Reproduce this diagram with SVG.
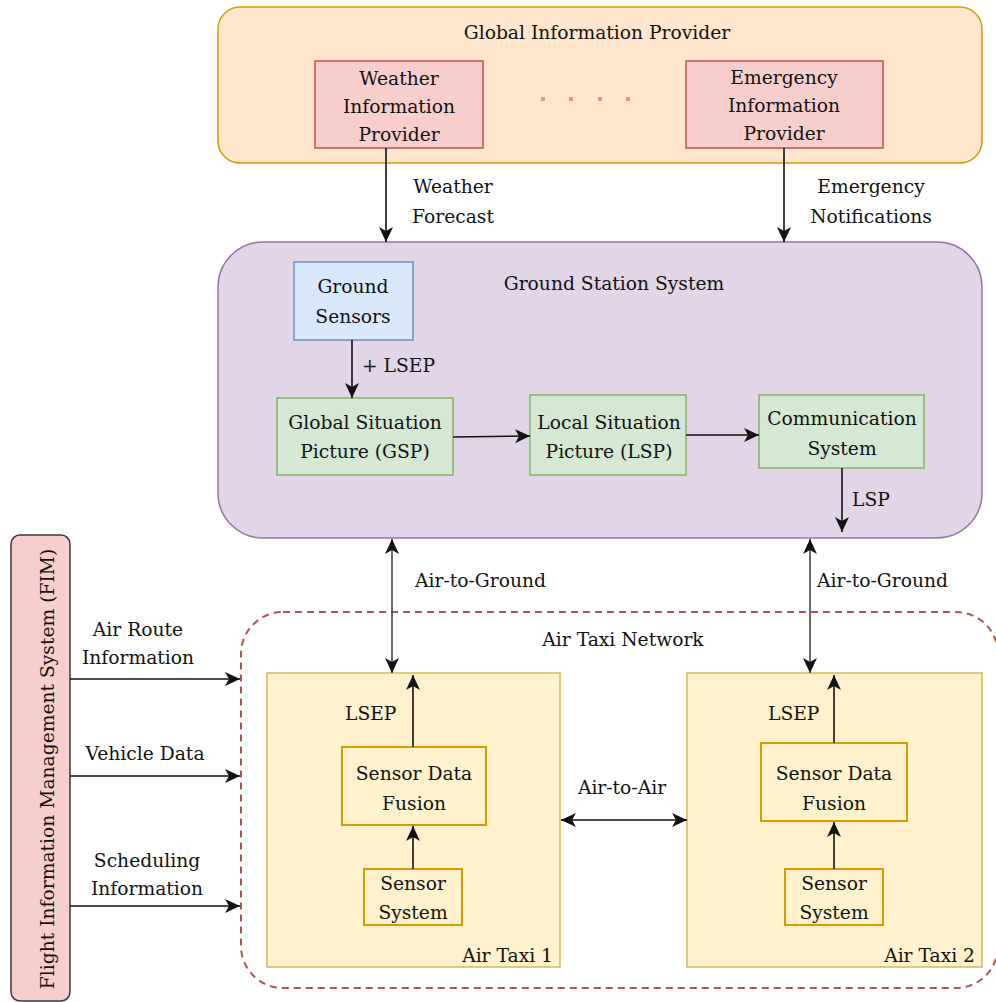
<svg xmlns="http://www.w3.org/2000/svg" width="996" height="1002" viewBox="0 0 996 1002">
  <style>
    text { font-family: 'DejaVu Serif', 'Liberation Serif', serif; font-size: 18.7px; fill: #111; }
    .c { text-anchor: middle; }
    .e { text-anchor: end; }
    .edge { stroke: #111; stroke-width: 1.6; fill: none; }
    .edge2 { stroke: #444; stroke-width: 1.6; fill: none; }
    .red { fill: #f8cecc; stroke: #b85450; stroke-width: 1.5; }
    .green { fill: #d5e8d4; stroke: #82b366; stroke-width: 1.5; }
    .taxi { fill: #fff2cc; stroke: #d6b656; stroke-width: 1.5; }
    .inner { fill: #fff2cc; stroke: #d79b00; stroke-width: 2; }
  </style>
  <defs>
    <marker id="arr" markerUnits="userSpaceOnUse" markerWidth="18" markerHeight="18" refX="15" refY="7" orient="auto-start-reverse">
      <path d="M0,0 L15,7 L0,14 L4,7 z" fill="#111"/>
    </marker>
  </defs>

  <!-- Global Information Provider -->
  <g id="global-info-provider">
    <rect x="218" y="7" width="764" height="156" rx="22" fill="#ffe6cc" stroke="#d79b00" stroke-width="1.5"/>
    <text x="597" y="39" class="c">Global Information Provider</text>
    <g fill="#ea8f95">
      <rect x="541" y="97" width="4" height="4"/>
      <rect x="569" y="97" width="4" height="4"/>
      <rect x="598" y="97" width="4" height="4"/>
      <rect x="626" y="97" width="4" height="4"/>
    </g>
  </g>
  <g id="weather-provider">
    <rect x="315" y="61" width="168" height="87" class="red"/>
    <text x="399" y="85" class="c">Weather</text>
    <text x="399" y="113" class="c">Information</text>
    <text x="399" y="141" class="c">Provider</text>
  </g>
  <g id="emergency-provider">
    <rect x="686" y="61" width="197" height="87" class="red"/>
    <text x="784" y="84" class="c">Emergency</text>
    <text x="784" y="112" class="c">Information</text>
    <text x="784" y="140" class="c">Provider</text>
  </g>

  <!-- Ground Station System -->
  <g id="ground-station">
    <rect x="218" y="242" width="764" height="296" rx="45" fill="#e1d5e7" stroke="#9673a6" stroke-width="1.5"/>
    <text x="614" y="290" class="c">Ground Station System</text>
  </g>
  <g id="ground-sensors">
    <rect x="294" y="262" width="119" height="78" fill="#dae8fc" stroke="#6c8ebf" stroke-width="1.5"/>
    <text x="353" y="293" class="c">Ground</text>
    <text x="353" y="323" class="c">Sensors</text>
  </g>
  <g id="gsp">
    <rect x="277" y="398" width="176" height="77" class="green"/>
    <text x="365" y="429" class="c">Global Situation</text>
    <text x="365" y="458" class="c">Picture (GSP)</text>
  </g>
  <g id="lsp">
    <rect x="530" y="395" width="156" height="80" class="green"/>
    <text x="609" y="429" class="c">Local Situation</text>
    <text x="609" y="458" class="c">Picture (LSP)</text>
  </g>
  <g id="comm-system">
    <rect x="759" y="395" width="165" height="73" class="green"/>
    <text x="842" y="425" class="c">Communication</text>
    <text x="842" y="455" class="c">System</text>
  </g>

  <!-- Flight Information Management System -->
  <g id="fim">
    <rect x="11" y="535" width="59" height="466" rx="9" fill="#f8cecc" stroke="#36393d" stroke-width="1.5"/>
    <text transform="translate(54,769) rotate(-90)" class="c">Flight Information Management System (FIM)</text>
  </g>

  <!-- Air Taxi Network -->
  <g id="air-taxi-network">
    <rect x="241" y="612" width="757" height="376" rx="42" fill="none" stroke="#b85450" stroke-width="2" stroke-dasharray="7,5"/>
    <text x="623" y="646" class="c">Air Taxi Network</text>
  </g>
  <g id="air-taxi-1">
    <rect x="267" y="673" width="293" height="294" class="taxi"/>
    <text x="553" y="962" class="e">Air Taxi 1</text>
  </g>
  <g id="sdf-1">
    <rect x="342" y="747" width="144" height="78" class="inner"/>
    <text x="414" y="780" class="c">Sensor Data</text>
    <text x="414" y="810" class="c">Fusion</text>
  </g>
  <g id="sensor-system-1">
    <rect x="364" y="869" width="98" height="56" class="inner"/>
    <text x="413" y="890" class="c">Sensor</text>
    <text x="413" y="919" class="c">System</text>
  </g>
  <g id="air-taxi-2">
    <rect x="687" y="673" width="295" height="294" class="taxi"/>
    <text x="975" y="962" class="e">Air Taxi 2</text>
  </g>
  <g id="sdf-2">
    <rect x="761" y="743" width="146" height="78" class="inner"/>
    <text x="834" y="780" class="c">Sensor Data</text>
    <text x="834" y="810" class="c">Fusion</text>
  </g>
  <g id="sensor-system-2">
    <rect x="785" y="869" width="98" height="56" class="inner"/>
    <text x="834" y="890" class="c">Sensor</text>
    <text x="834" y="919" class="c">System</text>
  </g>

  <!-- Connectors -->
  <g id="connectors">
    <line x1="386" y1="148" x2="386" y2="242" class="edge" marker-end="url(#arr)"/>
    <line x1="784" y1="148" x2="784" y2="242" class="edge" marker-end="url(#arr)"/>
    <line x1="352" y1="340" x2="352" y2="398" class="edge" marker-end="url(#arr)"/>
    <line x1="453" y1="437" x2="530" y2="436" class="edge" marker-end="url(#arr)"/>
    <line x1="686" y1="435" x2="759" y2="435" class="edge" marker-end="url(#arr)"/>
    <line x1="842" y1="468" x2="842" y2="532" class="edge" marker-end="url(#arr)"/>
    <line x1="392" y1="539" x2="392" y2="673" class="edge2" marker-start="url(#arr)" marker-end="url(#arr)"/>
    <line x1="810" y1="539" x2="810" y2="673" class="edge2" marker-start="url(#arr)" marker-end="url(#arr)"/>
    <line x1="413" y1="747" x2="413" y2="675" class="edge" marker-end="url(#arr)"/>
    <line x1="413" y1="869" x2="413" y2="826" class="edge" marker-end="url(#arr)"/>
    <line x1="834" y1="743" x2="834" y2="675" class="edge" marker-end="url(#arr)"/>
    <line x1="834" y1="869" x2="834" y2="822" class="edge" marker-end="url(#arr)"/>
    <line x1="561" y1="820" x2="687" y2="820" class="edge" marker-start="url(#arr)" marker-end="url(#arr)"/>
    <line x1="70" y1="679" x2="240" y2="679" class="edge" marker-end="url(#arr)"/>
    <line x1="70" y1="776" x2="240" y2="776" class="edge" marker-end="url(#arr)"/>
    <line x1="70" y1="906" x2="240" y2="906" class="edge" marker-end="url(#arr)"/>

    <text x="453" y="193" class="c">Weather</text>
    <text x="453" y="223" class="c">Forecast</text>
    <text x="871" y="193" class="c">Emergency</text>
    <text x="871" y="223" class="c">Notifications</text>
    <text x="362" y="372">+ LSEP</text>
    <text x="852" y="506">LSP</text>
    <text x="415" y="587">Air-to-Ground</text>
    <text x="817" y="587">Air-to-Ground</text>
    <text x="345" y="720">LSEP</text>
    <text x="768" y="720">LSEP</text>
    <text x="622" y="794" class="c">Air-to-Air</text>
    <text x="138" y="636" class="c">Air Route</text>
    <text x="138" y="664" class="c">Information</text>
    <text x="145" y="760" class="c">Vehicle Data</text>
    <text x="147" y="867" class="c">Scheduling</text>
    <text x="147" y="895" class="c">Information</text>
  </g>
</svg>
